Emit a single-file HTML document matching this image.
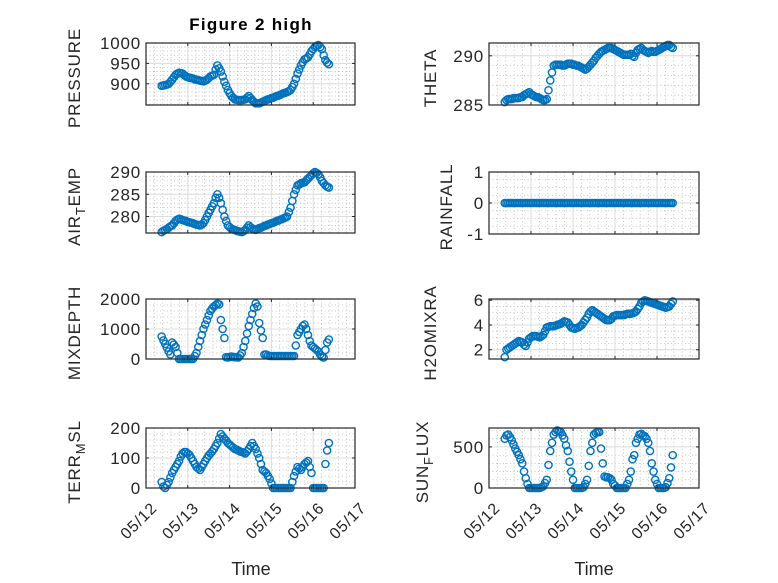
<!DOCTYPE html>
<html><head><meta charset="utf-8"><style>
html,body{margin:0;padding:0;background:#fff;}
svg{display:block;font-family:"Liberation Sans","DejaVu Sans",sans-serif;}
</style></head><body>
<svg id="fig" width="778" height="583" viewBox="0 0 778 583">
<rect width="778" height="583" fill="#fff"/>
<text x="251" y="30" text-anchor="middle" font-size="17" font-weight="bold" letter-spacing="1.3" fill="#000">Figure 2 high</text>
<text x="251" y="575" text-anchor="middle" font-size="18" fill="#262626">Time</text>
<text x="594" y="575" text-anchor="middle" font-size="18" fill="#262626">Time</text>
</svg>
<script>
const hours = [9,10,11,12,13,14,15,16,17,18,19,20,21,22,23,24,25,26,27,28,29,30,31,32,33,34,35,36,37,38,39,40,41,42,43,44,45,46,47,48,49,50,51,52,53,54,55,56,57,58,59,60,61,62,63,64,65,66,67,68,69,70,71,72,73,74,75,76,77,78,79,80,81,82,83,84,85,86,87,88,89,90,91,92,93,94,95,96,97,98,99,100,101,102,103,104,105];
const pressure = [895,896,897,898,900,905,910,916,922,925,927,926,925,921,918,916,915,914,913,911,910,909,908,907,906,908,910,914,918,920,922,935,945,938,930,918,905,895,885,877,870,866,862,861,860,860,860,861,862,866,870,865,860,856,852,852,852,854,856,858,860,862,863,865,866,868,870,871,873,875,877,878,880,882,885,892,900,912,925,935,945,953,960,962,965,972,980,985,990,993,995,990,985,970,958,952,948];
const airTemp = [276.5,276.8,277,277.2,277.5,277.8,278,278.5,279,279.3,279.5,279.4,279.2,279.1,279,278.8,278.7,278.6,278.5,278.3,278.2,278.1,278,278.2,278.5,279.2,280,280.8,281.5,282.3,283,284.2,285,284.2,283,281.5,280,279,278,277.6,277.3,277.1,277,276.8,276.7,276.6,276.5,276.7,277,277.5,278,277.6,277.3,277.1,277,277.2,277.4,277.5,277.7,277.9,278,278.2,278.3,278.5,278.6,278.8,279,279.1,279.3,279.4,279.6,279.8,280,281,282,283.5,285,286,287,287.2,287.5,287.6,287.7,288.1,288.5,288.9,289.3,289.7,290,289.8,289.5,288.8,288,287.5,287,286.7,286.5];
const rainfall = [0,0,0,0,0,0,0,0,0,0,0,0,0,0,0,0,0,0,0,0,0,0,0,0,0,0,0,0,0,0,0,0,0,0,0,0,0,0,0,0,0,0,0,0,0,0,0,0,0,0,0,0,0,0,0,0,0,0,0,0,0,0,0,0,0,0,0,0,0,0,0,0,0,0,0,0,0,0,0,0,0,0,0,0,0,0,0,0,0,0,0,0,0,0,0,0,0];
const mixDepth = [750,620,500,380,250,150,550,480,400,200,0,0,0,0,0,0,0,0,0,100,200,400,600,800,1000,1150,1300,1450,1600,1680,1750,1800,1850,1820,1300,1000,700,60,50,70,80,70,60,55,50,120,200,400,600,850,1100,1300,1500,1700,1850,1750,1200,950,700,150,150,120,100,100,100,100,100,100,100,100,100,100,100,100,100,100,100,450,800,900,1000,1100,1150,1000,800,600,450,400,350,300,250,150,80,50,300,550,650];
const theta = [285.3,285.5,285.6,285.6,285.6,285.7,285.7,285.7,285.7,285.8,285.8,286,286.1,286.2,286.3,286.1,286.0,285.9,285.8,285.8,285.7,285.6,285.5,285.5,285.6,286.5,287.5,288.3,289.0,289.1,289.1,289.1,289.1,289.0,289.0,289.1,289.2,289.2,289.2,289.1,289.1,289.0,289.0,288.9,288.8,288.7,288.6,288.7,288.9,289.1,289.3,289.5,289.8,290.0,290.2,290.4,290.5,290.6,290.7,290.8,290.8,290.8,290.7,290.6,290.5,290.4,290.3,290.2,290.1,290.1,290.1,290.1,290.2,290.0,289.9,290.3,290.6,290.7,290.8,290.6,290.5,290.4,290.3,290.4,290.5,290.4,290.4,290.5,290.6,290.7,290.8,290.9,291.0,291.1,291.1,290.9,290.8];
const h2o = [1.4,2.0,2.1,2.2,2.3,2.4,2.5,2.6,2.7,2.65,2.6,2.4,2.3,2.6,2.9,3.0,3.1,3.1,3.1,3.05,3.0,3.1,3.2,3.5,3.8,3.85,3.9,3.9,3.9,3.95,4.0,4.05,4.1,4.2,4.3,4.25,4.2,4.0,3.8,3.75,3.7,3.75,3.8,3.9,4.0,4.2,4.4,4.6,4.9,5.1,5.2,5.1,5.0,4.9,4.8,4.7,4.6,4.5,4.4,4.4,4.4,4.5,4.7,4.75,4.8,4.8,4.8,4.8,4.8,4.85,4.9,4.9,4.9,4.95,5.0,5.1,5.3,5.5,5.8,5.9,6.0,5.95,5.9,5.85,5.8,5.75,5.7,5.65,5.6,5.55,5.5,5.45,5.4,5.45,5.5,5.7,5.9];
const terrMsl = [20,5,0,10,20,35,50,60,70,80,90,105,115,120,120,115,110,100,90,80,70,65,60,70,80,90,100,108,115,122,130,140,150,165,180,172,165,158,150,145,140,135,130,128,125,122,120,118,115,122,130,140,150,140,130,115,100,80,60,55,50,40,30,15,0,0,0,0,0,0,0,0,0,0,0,20,40,55,70,65,60,70,80,85,90,70,50,0,0,0,0,0,0,0,80,125,150];
const sunFlux = [600,640,650,620,580,530,480,440,400,350,300,200,120,50,0,0,0,0,0,0,0,10,20,60,100,280,450,550,650,680,700,690,680,640,600,520,450,320,200,100,0,0,0,0,0,10,50,100,270,450,550,650,670,680,680,480,300,140,130,130,120,100,50,30,0,0,0,0,0,0,50,100,200,350,400,550,600,650,660,640,630,600,550,450,300,200,100,50,0,0,0,0,10,60,120,250,400];
const xTickLabels = ["05/12","05/13","05/14","05/15","05/16","05/17"];

const NS="http://www.w3.org/2000/svg";
const svg=document.getElementById('fig');
function mk(tag,attrs,parent){const e=document.createElementNS(NS,tag);for(const k in attrs)e.setAttribute(k,attrs[k]);(parent||svg).appendChild(e);return e;}

const panels=[
 {name:'pressure',data:pressure,x0:146,x1:355,y0:43,y1:105,min:848,max:1000,ticks:[900,950,1000],minor:10,label:['PRESSURE'],lx:80},
 {name:'air-temp',data:airTemp,x0:146,x1:355,y0:172,y1:233,min:276.3,max:290,ticks:[280,285,290],minor:1,label:['AIR','T','EMP'],lx:80},
 {name:'mixdepth',data:mixDepth,x0:146,x1:355,y0:299,y1:359,min:0,max:2000,ticks:[0,1000,2000],minor:200,label:['MIXDEPTH'],lx:80},
 {name:'terr-msl',data:terrMsl,x0:146,x1:355,y0:428,y1:488,min:0,max:200,ticks:[0,100,200],minor:20,label:['TERR','M','SL'],lx:80,xt:true},
 {name:'theta',data:theta,x0:489,x1:699,y0:43,y1:105,min:285,max:291.3,ticks:[285,290],minor:1,label:['THETA'],lx:436},
 {name:'rainfall',data:rainfall,x0:489,x1:699,y0:172,y1:234,min:-1,max:1,ticks:[-1,0,1],minor:0.25,label:['RAINFALL'],lx:452},
 {name:'h2omixra',data:h2o,x0:489,x1:699,y0:299,y1:359,min:1.25,max:6.1,ticks:[2,4,6],minor:0.5,label:['H2OMIXRA'],lx:436},
 {name:'sun-flux',data:sunFlux,x0:489,x1:699,y0:428,y1:488,min:0,max:730,ticks:[0,500],minor:100,label:['SUN','F','LUX'],lx:428,xt:true}
];

panels.forEach(p=>{
  const g=mk('g',{});
  
  
  const w=p.x1-p.x0;
  const xs=h=>p.x0+h/120*w;
  const ys=v=>p.y1-(v-p.min)/(p.max-p.min)*(p.y1-p.y0);
  for(let d=0;d<5;d++)for(let k=1;k<5;k++){const x=xs(d*24+k*24/5);
    mk('line',{x1:x,x2:x,y1:p.y0,y2:p.y1,stroke:'#b8b8b8','stroke-width':0.8,'stroke-dasharray':'1,2.5'},g);}
  const start=Math.ceil(p.min/p.minor)*p.minor;
  for(let v=start;v<=p.max+1e-9;v+=p.minor){const y=ys(v);
    mk('line',{x1:p.x0,x2:p.x1,y1:y,y2:y,stroke:'#b8b8b8','stroke-width':0.8,'stroke-dasharray':'1,2.5'},g);}
  for(let d=1;d<5;d++){const x=xs(d*24);mk('line',{x1:x,x2:x,y1:p.y0,y2:p.y1,stroke:'#dcdcdc','stroke-width':1},g);}
  p.ticks.forEach(v=>{const y=ys(v);mk('line',{x1:p.x0,x2:p.x1,y1:y,y2:y,stroke:'#dcdcdc','stroke-width':1},g);});
  p.data.forEach((v,i)=>{
    const c=mk('circle',{cx:xs(hours[i]).toFixed(2),cy:ys(v).toFixed(2),r:3.6,fill:'none',stroke:'#0072BD','stroke-width':1.4},g);
    
    
  });
  mk('rect',{x:p.x0,y:p.y0,width:w,height:p.y1-p.y0,fill:'none',stroke:'#262626','stroke-width':1.2},g);
  for(let d=0;d<=5;d++){const x=xs(d*24);
    mk('line',{x1:x,x2:x,y1:p.y1,y2:p.y1-3,stroke:'#262626','stroke-width':1},g);
    mk('line',{x1:x,x2:x,y1:p.y0,y2:p.y0+3,stroke:'#262626','stroke-width':1},g);
    if(p.xt){const t=mk('text',{x:0,y:0,'text-anchor':'end','font-size':16,'letter-spacing':0.8,fill:'#262626',transform:`translate(${x+12},${p.y1+21}) rotate(-45)`},g);
      t.textContent=xTickLabels[d];
      
      }
  }
  p.ticks.forEach(v=>{const y=ys(v);
    mk('line',{x1:p.x0,x2:p.x0+3,y1:y,y2:y,stroke:'#262626','stroke-width':1},g);
    mk('line',{x1:p.x1,x2:p.x1-3,y1:y,y2:y,stroke:'#262626','stroke-width':1},g);
    const t=mk('text',{x:p.x0-5,y:y+6,'text-anchor':'end','font-size':17,'letter-spacing':0.8,fill:'#262626'},g);
    t.textContent=String(v);
    
    
  });
  const cy=(p.y0+p.y1)/2+4;
  const t=mk('text',{x:0,y:0,'text-anchor':'middle','font-size':17,'letter-spacing':0.8,fill:'#262626',transform:`translate(${p.lx},${cy}) rotate(-90)`},g);
  
  
  if(p.label.length===1){t.textContent=p.label[0];}
  else{
    const a=mk('tspan',{},t);a.textContent=p.label[0];
    const b=mk('tspan',{dy:5,'font-size':13},t);b.textContent=p.label[1];
    const c=mk('tspan',{dy:-5},t);c.textContent=p.label[2];
  }
});
</script>
</body></html>
